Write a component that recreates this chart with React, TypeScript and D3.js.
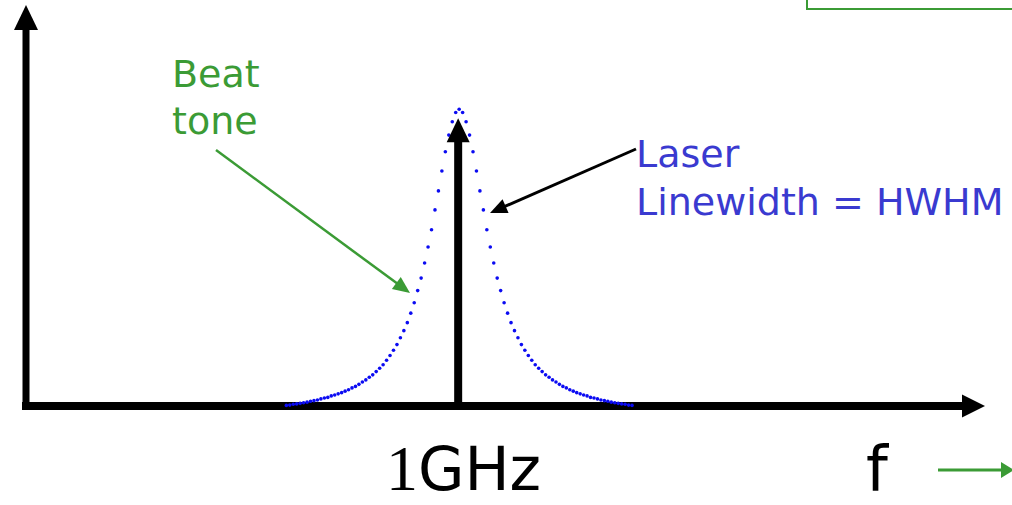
import React, { useRef, useEffect } from 'react';
import * as d3 from 'd3';

const W = 1012;
const H = 505;

// frequency samples around 1 GHz, in sample steps
const sampleSteps = d3.range(-50, 51);
const spectrum = [
  0.2, 0.3, 0.6, 0.7, 0.9, 1.1, 1.3, 1.6, 1.8, 2.0, 2.4, 2.7, 2.9, 3.4, 3.7, 4.1, 4.5, 5.0, 5.5, 6.1,
  6.6, 7.3, 8.1, 8.8, 9.7, 10.5, 11.6, 12.7, 13.9, 15.4, 17.0, 18.8, 20.7, 23.0, 25.4, 28.1, 31.3, 34.8,
  38.9, 43.1, 48.2, 53.6, 59.4, 66.1, 72.5, 79.2, 85.7, 91.3, 95.8, 98.9,
  100,
  98.9, 95.8, 91.3, 85.7, 79.2, 72.5, 66.1, 59.4, 53.6, 48.2, 43.1, 38.9, 34.8, 31.3, 28.1, 25.4, 23.0,
  20.7, 18.8, 17.0, 15.4, 13.9, 12.7, 11.6, 10.5, 9.7, 8.8, 8.1, 7.3, 6.6, 6.1, 5.5, 5.0, 4.5, 4.1, 3.7,
  3.4, 2.9, 2.7, 2.4, 2.0, 1.8, 1.6, 1.3, 1.1, 0.9, 0.7, 0.6, 0.3, 0.2,
];
const beatTone = { step: 0, level: 97 };
const beatToneLines = ['Beat', 'tone'];
const laserLines = ['Laser', 'Linewidth = HWHM'];
const centerLabel = ['1', 'GHz'];
const axisLabel = 'f';

const DOT = '#0b0bf2';
const GREEN = '#3b9b35';
const BLUE = '#3a3ad0';
const FONT = "'Comic Sans MS', 'DejaVu Sans', sans-serif";

function arrow(g, x1, y1, x2, y2, color, width, headLen, headHalf) {
  const dx = x2 - x1, dy = y2 - y1;
  const len = Math.hypot(dx, dy);
  const ux = dx / len, uy = dy / len;
  const bx = x2 - ux * headLen, by = y2 - uy * headLen;
  g.append('line')
    .attr('x1', x1).attr('y1', y1)
    .attr('x2', bx + ux * 2).attr('y2', by + uy * 2)
    .attr('stroke', color).attr('stroke-width', width);
  g.append('polygon')
    .attr('points', [
      [x2, y2],
      [bx - uy * headHalf, by + ux * headHalf],
      [bx + uy * headHalf, by - ux * headHalf],
    ].map(p => p.join(',')).join(' '))
    .attr('fill', color);
}

const App = () => {
  const ref = useRef(null);

  useEffect(() => {
    const svg = d3.select(ref.current);
    svg.selectAll('*').remove();

    const x = d3.scaleLinear().domain([-125.3, 152.1]).range([26, 985]);
    const y = d3.scaleLinear().domain([0, 100]).range([406, 109.3]);

    const g = svg.append('g');

    // green box at top right
    g.append('rect')
      .attr('x', 807).attr('y', -20)
      .attr('width', 300).attr('height', 29)
      .attr('fill', 'none').attr('stroke', GREEN).attr('stroke-width', 2);

    // axes
    arrow(g, x.range()[0], y(0) + 3.5, x.range()[0], 5, '#000', 7, 25, 12);
    arrow(g, x.range()[0] - 4, y(0), x.range()[1], y(0), '#000', 8, 23, 11.5);

    // dotted spectrum
    g.selectAll('circle.pt')
      .data(sampleSteps.map((s, i) => ({ s, v: spectrum[i] })))
      .enter()
      .append('circle')
      .attr('class', 'pt')
      .attr('cx', d => x(d.s))
      .attr('cy', d => y(d.v))
      .attr('r', 1.8)
      .attr('fill', DOT);

    // beat tone
    arrow(g, x(beatTone.step) - 1, y(0), x(beatTone.step) - 1, y(beatTone.level), '#000', 8, 24, 11.5);

    // annotations
    arrow(g, 216, 150, 410, 293, GREEN, 2.5, 17, 7.5);
    arrow(g, 636, 149, 490, 213, '#000', 3, 17, 7.5);

    const beat = g.append('text')
      .attr('font-family', FONT).attr('font-size', 38).attr('fill', GREEN);
    beatToneLines.forEach((t, i) => {
      beat.append('tspan').attr('x', 172).attr('y', 87 + i * 47).text(t);
    });

    const laser = g.append('text')
      .attr('font-family', FONT).attr('font-size', 38).attr('fill', BLUE);
    laserLines.forEach((t, i) => {
      laser.append('tspan').attr('x', 636).attr('y', 167 + i * 48).text(t);
    });

    const ghz = g.append('text')
      .attr('x', 386).attr('y', 490)
      .attr('fill', '#000');
    ghz.append('tspan')
      .attr('font-family', "'Liberation Serif', serif").attr('font-size', 64)
      .text(centerLabel[0]);
    ghz.append('tspan')
      .attr('font-family', FONT).attr('font-size', 60)
      .text(centerLabel[1]);

    g.append('text')
      .attr('x', 866).attr('y', 490)
      .attr('font-family', FONT).attr('font-size', 62).attr('fill', '#000')
      .text(axisLabel);

    arrow(g, 938, 470, 1014, 470, GREEN, 3, 13, 8);
  }, []);

  return (
    <svg
      ref={ref}
      width={W}
      height={H}
      style={{ position: 'absolute', left: 0, top: 0, display: 'block', background: '#fff' }}
    />
  );
};

export default App;
